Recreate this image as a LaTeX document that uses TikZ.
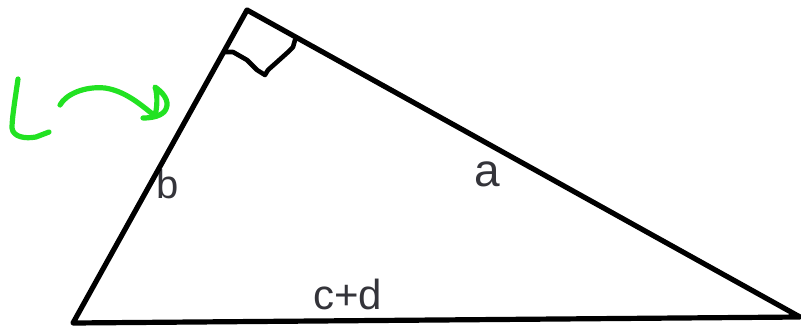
\documentclass[tikz,border=0pt]{standalone}
\usepackage{fontspec}
\setmainfont{Liberation Sans}
\usetikzlibrary{positioning}

\definecolor{handgreen}{RGB}{34,226,34}
\definecolor{labelgray}{RGB}{52,52,58}

\begin{document}
\begin{tikzpicture}[
			x=1pt, y=-1pt,
			side/.style={
				line width=5.2pt,
				line cap=round,
				line join=round
			},
			pen/.style={
				draw=handgreen,
				line width=5.2pt,
				line cap=round,
				line join=round
			},
			lbl/.style={
				inner sep=0pt,
				anchor=base west,
				text=labelgray
			}
			]
			
			\useasboundingbox (0,0) rectangle (801,327);
			
			%%%%%%%%%%%%%%%%%%%%%%%%%%%%%%%%%%%%%%%%%%%%%%%%%%%%%%%%%%%%
			% Corners
			%%%%%%%%%%%%%%%%%%%%%%%%%%%%%%%%%%%%%%%%%%%%%%%%%%%%%%%%%%%%
			
			\coordinate (left) at (73,323);
			
			\coordinate (top) at (247,10);
			
			\coordinate (right) at (800,317);
			
			%%%%%%%%%%%%%%%%%%%%%%%%%%%%%%%%%%%%%%%%%%%%%%%%%%%%%%%%%%%%
			% Labels
			%%%%%%%%%%%%%%%%%%%%%%%%%%%%%%%%%%%%%%%%%%%%%%%%%%%%%%%%%%%%
			
			\node (b) [lbl, font=\fontsize{40}{40}\selectfont] at (156,198)
			{b};
			
			\node (a) [lbl, font=\fontsize{46}{46}\selectfont] at (474,186)
			{a};
			
			\node (cd) [lbl, font=\fontsize{42}{42}\selectfont] at (313,309)
			{c+d};
			
			%%%%%%%%%%%%%%%%%%%%%%%%%%%%%%%%%%%%%%%%%%%%%%%%%%%%%%%%%%%%
			% Sides
			%%%%%%%%%%%%%%%%%%%%%%%%%%%%%%%%%%%%%%%%%%%%%%%%%%%%%%%%%%%%
			
			\draw[side] (left) -- (top) -- (right) -- cycle;
			
			% right angle
			
			\draw[side, line width=4.6pt]
			(225,52) -- (233,52) -- (247,60) -- (257,70) -- (265,75)
			-- (268,70) -- (277,62) -- (287,53) -- (293,47) -- (295,40);
			
			%%%%%%%%%%%%%%%%%%%%%%%%%%%%%%%%%%%%%%%%%%%%%%%%%%%%%%%%%%%%
			% Green note
			%%%%%%%%%%%%%%%%%%%%%%%%%%%%%%%%%%%%%%%%%%%%%%%%%%%%%%%%%%%%
			
			% L
			
			\draw[pen]
			(18,79) .. controls (15,100) and (12,118) .. (12,128)
			.. controls (13,137) and (25,139) .. (36,137)
			-- (49,132);
			
			% arrow
			
			\draw[pen]
			(60,105) .. controls (66,94) and (85,86) .. (105,88)
			.. controls (125,91) and (140,104) .. (155,116)
			.. controls (158,104) and (157,92) .. (155,87)
			.. controls (162,92) and (170,100) .. (166,109)
			.. controls (163,116) and (152,118) .. (143,118);
			
		\end{tikzpicture}
\end{document}
